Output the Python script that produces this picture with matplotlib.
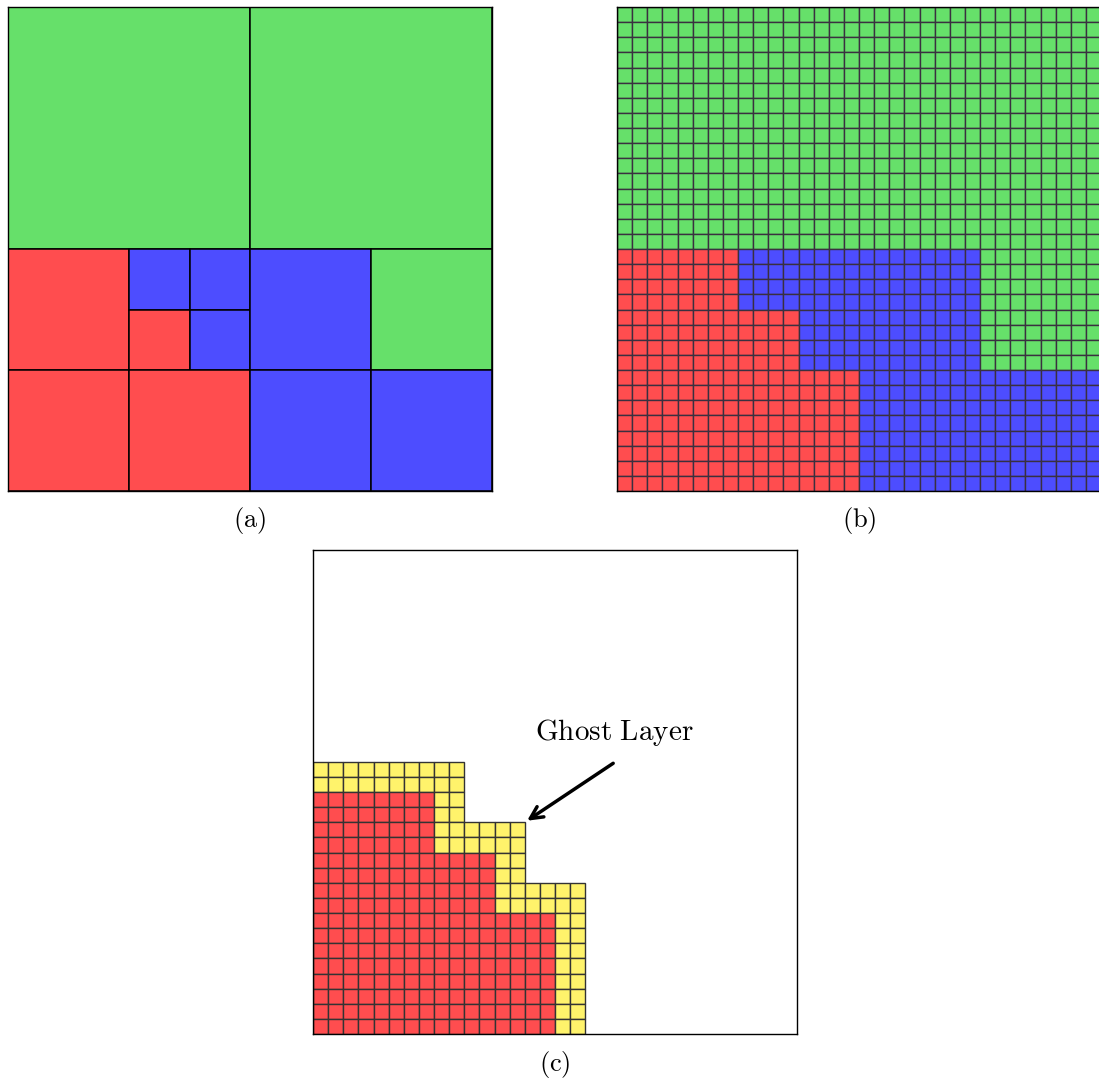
import numpy as np
import matplotlib
matplotlib.use("Agg")
import matplotlib.pyplot as plt
from matplotlib.patches import Rectangle

plt.rcParams["mathtext.fontset"] = "cm"

GREEN, RED, BLUE, YELLOW = "#66e06a", "#ff4d4f", "#4d4dff", "#fff36b"
COLORS = {"G": GREEN, "R": RED, "B": BLUE}

# owner of each coarse block (8 x 8 blocks, row 0 at the top)
OWNERS = [
    "GGGGGGGG",
    "GGGGGGGG",
    "GGGGGGGG",
    "GGGGGGGG",
    "RRBBBBGG",
    "RRRBBBGG",
    "RRRRBBBB",
    "RRRRBBBB",
]
# quadtree leaves: (col, row, size) in coarse blocks
LEAVES = [
    (0, 0, 4), (4, 0, 4),
    (0, 4, 2), (2, 4, 1), (3, 4, 1), (2, 5, 1), (3, 5, 1),
    (0, 6, 2), (2, 6, 2),
    (4, 4, 2), (6, 4, 2), (4, 6, 2), (6, 6, 2),
]
FINE = 4          # fine cells per coarse block
GHOST_WIDTH = 2   # ghost layer depth in fine cells
GHOST_RANK = "R"

N = len(OWNERS) * FINE
owner_fine = np.repeat(np.repeat(np.array([list(r) for r in OWNERS]), FINE, 0), FINE, 1)

W, H = 1099, 1082
fig = plt.figure(figsize=(W / 100, H / 100), dpi=100)


def panel(x0, y0, size=484):
    ax = fig.add_axes([x0 / W, 1 - (y0 + size) / H, size / W, size / H])
    ax.set_xlim(0, N)
    ax.set_ylim(N, 0)
    ax.set_xticks([])
    ax.set_yticks([])
    for s in ax.spines.values():
        s.set_linewidth(1.0)
        s.set_color("black")
    return ax


def cell(ax, c, r, color, lw=1.0, ec="#333333"):
    ax.add_patch(Rectangle((c, r), 1, 1, facecolor=color, edgecolor=ec, lw=lw))


# (a) quadtree leaves
ax_a = panel(8, 7)
for c, r, s in LEAVES:
    ax_a.add_patch(Rectangle((c * FINE, r * FINE), s * FINE, s * FINE,
                             facecolor=COLORS[OWNERS[r][c]], edgecolor="black", lw=1.1))

# (b) fine grid
ax_b = panel(617, 7)
for r in range(N):
    for c in range(N):
        cell(ax_b, c, r, COLORS[owner_fine[r, c]], lw=1.0, ec="#3a3040")

# (c) one rank's cells and its ghost layer
ax_c = panel(313, 550)
mine = owner_fine == GHOST_RANK
ghost = np.zeros_like(mine)
rr, cc = np.nonzero(mine)
for r, c in zip(rr, cc):
    ghost[max(r - GHOST_WIDTH, 0):r + GHOST_WIDTH + 1,
          max(c - GHOST_WIDTH, 0):c + GHOST_WIDTH + 1] = True
ghost &= ~mine
for r in range(N):
    for c in range(N):
        if mine[r, c]:
            cell(ax_c, c, r, RED)
        elif ghost[r, c]:
            cell(ax_c, c, r, YELLOW)

ax_c.annotate("", xy=(14, 18), xytext=(20, 14),
              arrowprops=dict(arrowstyle="->", lw=2.5, color="black",
                              mutation_scale=22))
ax_c.text(19.9, 12.55, r"$\mathrm{Ghost\ Layer}$", fontsize=21,
          ha="center", va="baseline")

for x, y, lab in [(250, 521, "(a)"), (859, 521, "(b)"), (555, 1065, "(c)")]:
    fig.text(x / W, 1 - y / H, rf"$\mathrm{{{lab}}}$", fontsize=19,
             ha="center", va="center")

fig.savefig("out.png", dpi=100)
